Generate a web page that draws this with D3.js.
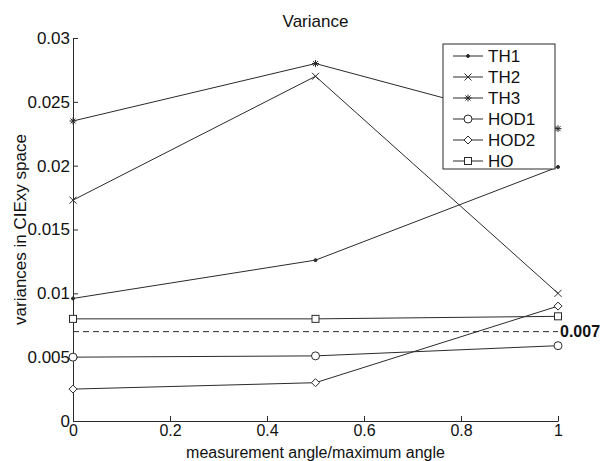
<!DOCTYPE html>
<html>
<head>
<meta charset="utf-8">
<script src="https://cdn.jsdelivr.net/npm/d3@7"></script>
<style>
  body { margin: 0; background: #fff; }
  svg { display: block; font-family: "Liberation Sans", Arial, sans-serif; }
</style>
</head>
<body>
<script>
// data
var xValues = [0, 0.5, 1];
var seriesNames = ['TH1', 'TH2', 'TH3', 'HOD1', 'HOD2', 'HO'];
var markers = ['dot', 'x', 'star', 'circle', 'diamond', 'square'];
var th1 = [0.0096, 0.0126, 0.0199];
var th2 = [0.0173, 0.0270, 0.0100];
var th3 = [0.0235, 0.0280, 0.0229];
var hod1 = [0.0050, 0.0051, 0.0059];
var hod2 = [0.0025, 0.0030, 0.0090];
var ho = [0.0080, 0.0080, 0.0082];
var threshold = 0.007;
var xTicks = [0, 0.2, 0.4, 0.6, 0.8, 1];
var xTickLabels = ['0', '0.2', '0.4', '0.6', '0.8', '1'];
var yTicks = [0, 0.005, 0.01, 0.015, 0.02, 0.025, 0.03];
var yTickLabels = ['0', '0.005', '0.01', '0.015', '0.02', '0.025', '0.03'];

var allSeries = [th1, th2, th3, hod1, hod2, ho];

var width = 602, height = 461,
    margin = {left: 73, top: 38, right: 44, bottom: 40},
    g_width = width - margin.left - margin.right,
    g_height = height - margin.top - margin.bottom;

var svg = d3.select('body').append('svg')
            .attr('width', width)
            .attr('height', height);
var g = svg.append('g').attr('transform', 'translate(' + margin.left + ',' + margin.top + ')');

var scale_x = d3.scaleLinear().domain([0, 1]).range([0, g_width]);
var scale_y = d3.scaleLinear().domain([0, 0.03]).range([g_height, 0]);

var ink = '#2a2a2a';

// axes: only left + bottom, ticks pointing inwards
var x_axis = d3.axisBottom(scale_x).tickValues(xTicks)
               .tickFormat(function(d, i){ return xTickLabels[i]; })
               .tickSizeInner(-5).tickSizeOuter(0).tickPadding(4);
var y_axis = d3.axisLeft(scale_y).tickValues(yTicks)
               .tickFormat(function(d, i){ return yTickLabels[i]; })
               .tickSizeInner(-5).tickSizeOuter(0).tickPadding(3);

var gx = g.append('g').attr('transform', 'translate(0,' + g_height + ')').call(x_axis);
var gy = g.append('g').call(y_axis);
[gx, gy].forEach(function(a){
  a.selectAll('path,line').attr('stroke', ink).attr('stroke-width', 1);
  a.selectAll('text').attr('font-size', 17).attr('fill', '#111').attr('font-family', null);
});
gx.selectAll('text').attr('font-size', 16).attr('dy', '0.71em');

// marker painter
function marker(sel, type, x, y){
  var m = sel.append('g').attr('transform', 'translate(' + x + ',' + y + ')')
             .attr('fill', 'none').attr('stroke', ink).attr('stroke-width', 1);
  if (type === 'dot') m.append('circle').attr('r', 1.5).attr('fill', ink);
  if (type === 'x') m.append('path').attr('d', 'M-3.5,-3.5L3.5,3.5M-3.5,3.5L3.5,-3.5');
  if (type === 'star') m.append('path').attr('d', 'M-3.5,0L3.5,0M0,-3.5L0,3.5M-2.5,-2.5L2.5,2.5M-2.5,2.5L2.5,-2.5');
  if (type === 'circle') m.append('circle').attr('r', 4).attr('fill', '#fff');
  if (type === 'diamond') m.append('path').attr('d', 'M0,-4L4,0L0,4L-4,0Z').attr('fill', '#fff');
  if (type === 'square') m.append('rect').attr('x', -3.5).attr('y', -3.5).attr('width', 7).attr('height', 7).attr('fill', '#fff');
}

var line_generator = d3.line()
  .x(function(d, i){ return scale_x(xValues[i]); })
  .y(function(d){ return scale_y(d); });

// threshold line
g.append('path')
 .attr('d', line_generator(xValues.map(function(){ return threshold; })))
 .attr('fill', 'none').attr('stroke', ink).attr('stroke-width', 1)
 .attr('stroke-dasharray', '6,4');
g.append('text').text(String(threshold))
 .attr('x', scale_x(1) + 2).attr('y', scale_y(threshold))
 .attr('dy', '0.35em').attr('font-size', 16).attr('font-weight', 'bold').attr('fill', '#111');

allSeries.forEach(function(s, k){
  g.append('path').attr('d', line_generator(s))
   .attr('fill', 'none').attr('stroke', ink).attr('stroke-width', 1);
  s.forEach(function(v, i){ marker(g, markers[k], scale_x(xValues[i]), scale_y(v)); });
});

// legend
var lg = svg.append('g').attr('transform', 'translate(443,44)');
lg.append('rect').attr('width', 112).attr('height', 125)
  .attr('fill', '#fff').attr('stroke', ink).attr('stroke-width', 1);
seriesNames.forEach(function(name, k){
  var yy = 12 + k * 21;
  lg.append('line').attr('x1', 10).attr('x2', 40).attr('y1', yy).attr('y2', yy)
    .attr('stroke', ink).attr('stroke-width', 1);
  marker(lg, markers[k], 25, yy);
  lg.append('text').text(name).attr('x', 45).attr('y', yy).attr('dy', '0.35em')
    .attr('font-size', 17).attr('fill', '#111');
});

// title + axis labels
svg.append('text').text('Variance')
   .attr('x', margin.left + g_width / 2).attr('y', 27)
   .attr('text-anchor', 'middle').attr('font-size', 17).attr('fill', '#111');
svg.append('text').text('measurement angle/maximum angle')
   .attr('x', margin.left + g_width / 2).attr('y', 458)
   .attr('text-anchor', 'middle').attr('font-size', 16).attr('fill', '#111');
svg.append('text').text('variances in CIExy space')
   .attr('transform', 'translate(26,' + (margin.top + g_height / 2) + ') rotate(-90)')
   .attr('text-anchor', 'middle').attr('font-size', 17).attr('fill', '#111');
</script>
</body>
</html>
